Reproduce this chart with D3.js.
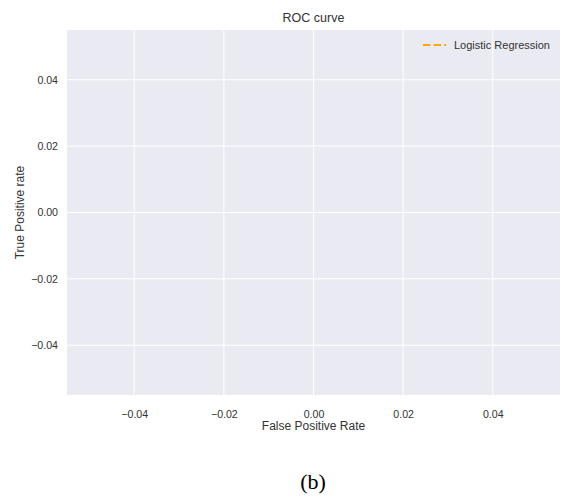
<!DOCTYPE html>
<html>
<head>
<meta charset="utf-8">
<script src="https://cdn.jsdelivr.net/npm/d3@7"></script>
<style>
  body { margin: 0; background: #fff; }
  svg { display: block; }
  text { font-family: "Liberation Sans", Arial, sans-serif; fill: #333; }
</style>
</head>
<body>
<div id="viz"></div>
<script>
// data: the ROC curve in the source has no points, only the legend entry
const fpr = [];
const tpr = [];
const seriesName = 'Logistic Regression';
const xTicks = [-0.04, -0.02, 0.00, 0.02, 0.04];
const yTicks = [-0.04, -0.02, 0.00, 0.02, 0.04];
const xDomain = [-0.055, 0.055];
const yDomain = [-0.055, 0.055];

const width = 562, height = 497;
const margin = {top: 30, right: 2, bottom: 102, left: 67};
const iw = width - margin.left - margin.right;
const ih = height - margin.top - margin.bottom;

const fmt = v => d3.format('.2f')(v).replace('-', '\u2212');

const svg = d3.select('#viz').append('svg')
  .attr('width', width).attr('height', height);
const g = svg.append('g').attr('transform', `translate(${margin.left},${margin.top})`);

const x = d3.scaleLinear().domain(xDomain).range([0, iw]);
const y = d3.scaleLinear().domain(yDomain).range([ih, 0]);

g.append('rect').attr('width', iw).attr('height', ih).attr('fill', '#eaeaf2');

// grid
g.selectAll('.gx').data(xTicks).enter().append('line')
  .attr('x1', d => x(d)).attr('x2', d => x(d)).attr('y1', 0).attr('y2', ih)
  .attr('stroke', '#fff').attr('stroke-width', 1);
g.selectAll('.gy').data(yTicks).enter().append('line')
  .attr('y1', d => y(d)).attr('y2', d => y(d)).attr('x1', 0).attr('x2', iw)
  .attr('stroke', '#fff').attr('stroke-width', 1);

// axes (labels only, seaborn darkgrid has no spines/ticks)
const xAxis = g.append('g').attr('transform', `translate(0,${ih})`)
  .call(d3.axisBottom(x).tickValues(xTicks).tickFormat(fmt).tickSize(0).tickPadding(15));
const yAxis = g.append('g')
  .call(d3.axisLeft(y).tickValues(yTicks).tickFormat(fmt).tickSize(0).tickPadding(9));
[xAxis, yAxis].forEach(a => {
  a.select('.domain').remove();
  a.selectAll('text').attr('font-size', 10.6).attr('fill', '#333')
    .attr('font-family', '"Liberation Sans", Arial, sans-serif');
});

// line
const dash = '7.4,3.2';
const line = d3.line().x((d, i) => x(fpr[i])).y((d, i) => y(d));
g.append('path').datum(tpr).attr('d', line)
  .attr('fill', 'none').attr('stroke', '#ffa500').attr('stroke-width', 1.8)
  .attr('stroke-dasharray', dash);

// title and labels
svg.append('text').attr('x', margin.left + iw / 2).attr('y', 22)
  .attr('text-anchor', 'middle').attr('font-size', 12.5).text('ROC curve');
svg.append('text').attr('x', margin.left + iw / 2).attr('y', 430)
  .attr('text-anchor', 'middle').attr('font-size', 12).text('False Positive Rate');
svg.append('text').attr('transform', `translate(24,${margin.top + ih / 2}) rotate(-90)`)
  .attr('text-anchor', 'middle').attr('font-size', 12).text('True Positive rate');

// legend
const lg = g.append('g').attr('transform', `translate(${iw - 137},15)`);
lg.append('line').attr('x1', 0).attr('x2', 23).attr('y1', 0).attr('y2', 0)
  .attr('stroke', '#ffa500').attr('stroke-width', 1.8).attr('stroke-dasharray', dash);
lg.append('text').attr('x', 31).attr('y', 4).attr('font-size', 11).text(seriesName);

// caption
svg.append('text').attr('x', 313).attr('y', 489).attr('text-anchor', 'middle')
  .attr('font-size', 22).style('font-family', '"Liberation Serif", "Times New Roman", serif')
  .style('fill', '#000').text('(b)');
</script>
</body>
</html>
